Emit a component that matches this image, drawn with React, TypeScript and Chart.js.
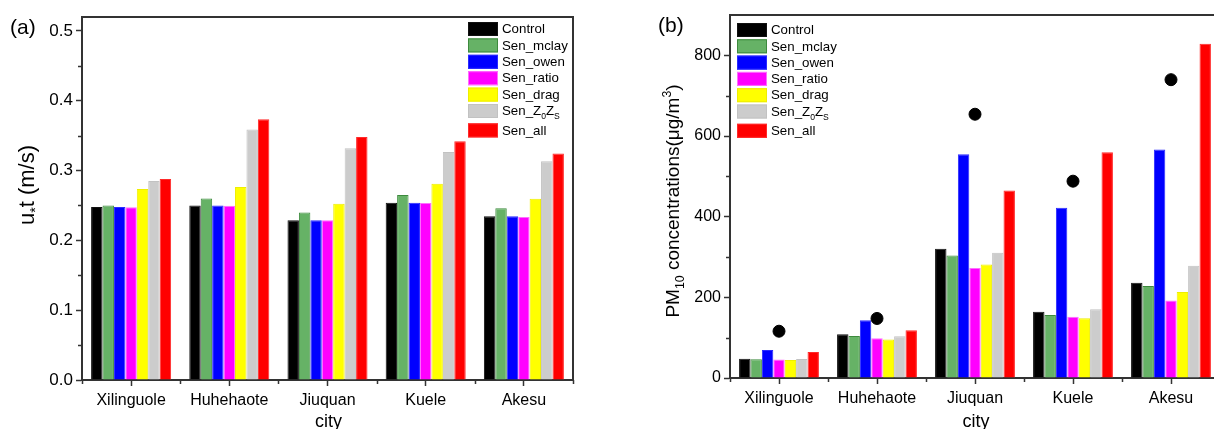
import React, { useEffect, useRef } from 'react';
import { Chart, registerables } from 'chart.js';
Chart.register(...registerables);

const FONT = "'Liberation Sans', Arial, sans-serif";

const cities = ['Xilinguole', 'Huhehaote', 'Jiuquan', 'Kuele', 'Akesu'];
const seriesNames = ['Control', 'Sen_mclay', 'Sen_owen', 'Sen_ratio', 'Sen_drag', 'Sen_Z0ZS', 'Sen_all'];
const fillColors = ['#000000', '#66b266', '#0000ff', '#ff00ff', '#ffff00', '#cccccc', '#ff0000'];
const edgeColors = ['#111111', '#3d8a3d', '#2a2aff', '#ff6cff', '#eeee00', '#c2c2c2', '#ff2a2a'];

// (a) threshold friction velocity u*t (m/s)
const uControl = [0.248, 0.250, 0.229, 0.254, 0.2345];
const uMclay = [0.250, 0.260, 0.240, 0.265, 0.246];
const uOwen = [0.248, 0.250, 0.229, 0.254, 0.2345];
const uRatio = [0.2475, 0.2495, 0.2288, 0.2535, 0.2335];
const uDrag = [0.2735, 0.2765, 0.2525, 0.281, 0.2598];
const uZ0Zs = [0.285, 0.3587, 0.332, 0.3266, 0.3133];
const uAll = [0.288, 0.3735, 0.348, 0.342, 0.3243];

// (b) PM10 concentrations (ug/m3)
const pmControl = [48, 108.6, 320.5, 164, 236];
const pmMclay = [46.5, 104.3, 304, 156.5, 227.8];
const pmOwen = [69.6, 143.4, 555, 422, 566.5];
const pmRatio = [45.6, 98.6, 272.5, 151.6, 192.3];
const pmDrag = [44.7, 95.3, 281.7, 148.3, 213];
const pmZ0Zs = [47.2, 103.6, 310.6, 170.7, 278.3];
const pmAll = [64.6, 118.5, 464.6, 560, 829];
const pmObserved = [116, 147.6, 654, 488, 739.6];

const uTicksMajor = [0, 0.1, 0.2, 0.3, 0.4, 0.5];
const uTicksMinor = [0.05, 0.15, 0.25, 0.35, 0.45];
const pmTicksMajor = [0, 200, 400, 600, 800];
const pmTicksMinor = [100, 300, 500, 700];

type Part = { t: string; k?: 'sub' | 'sup' };

function drawRich(ctx: CanvasRenderingContext2D, parts: Part[], x: number, y: number, size: number, rotate: boolean, align: 'center' | 'left') {
  const small = size * 0.65;
  const widths = parts.map((p) => {
    ctx.font = `${p.k ? small : size}px ${FONT}`;
    return ctx.measureText(p.t).width;
  });
  const total = widths.reduce((a, b) => a + b, 0);
  ctx.save();
  ctx.translate(x, y);
  if (rotate) ctx.rotate(-Math.PI / 2);
  ctx.fillStyle = '#000';
  ctx.textBaseline = 'alphabetic';
  ctx.textAlign = 'left';
  let cx = align === 'center' ? -total / 2 : 0;
  const base = size * 0.36;
  parts.forEach((p, i) => {
    ctx.font = `${p.k ? small : size}px ${FONT}`;
    let dy = 0;
    if (p.k === 'sub') dy = size * 0.28;
    if (p.k === 'sup') dy = -size * 0.4;
    ctx.fillText(p.t, cx, base + dy);
    cx += widths[i];
  });
  ctx.restore();
}

const legendLabels: Part[][] = [
  [{ t: 'Control' }],
  [{ t: 'Sen_mclay' }],
  [{ t: 'Sen_owen' }],
  [{ t: 'Sen_ratio' }],
  [{ t: 'Sen_drag' }],
  [{ t: 'Sen_Z' }, { t: '0', k: 'sub' }, { t: 'Z' }, { t: 'S', k: 'sub' }],
  [{ t: 'Sen_all' }],
];

type Decor = {
  minorY: number[];
  legendX: number;
  legendY0: number;
  legendStep: number;
  yTitle: Part[];
  yTitleX: number;
  yTitleY: number;
  yTitleSize: number;
  panel: string;
  panelX: number;
  panelY: number;
};

function decorPlugin(cfg: Decor) {
  return {
    id: 'decor',
    afterDraw(chart: any) {
      const ctx: CanvasRenderingContext2D = chart.ctx;
      const { left, right, top, bottom } = chart.chartArea;
      const xs = chart.scales.x;
      const ys = chart.scales.y;
      ctx.save();
      ctx.strokeStyle = '#333';
      ctx.lineWidth = 2;
      ctx.beginPath();
      ctx.moveTo(left - 1, top);
      ctx.lineTo(right, top);
      ctx.lineTo(right, bottom + 1);
      ctx.stroke();
      ctx.lineWidth = 1.5;
      ctx.beginPath();
      cfg.minorY.forEach((v) => {
        const py = Math.round(ys.getPixelForValue(v)) + 0.5;
        ctx.moveTo(left - 4, py);
        ctx.lineTo(left, py);
      });
      for (let i = 0; i <= cities.length; i++) {
        const px = Math.round(xs.getPixelForValue(i - 0.5)) + 0.5;
        ctx.moveTo(px, bottom);
        ctx.lineTo(px, bottom + 4);
      }
      ctx.stroke();
      ctx.restore();

      // legend
      ctx.save();
      for (let i = 0; i < seriesNames.length; i++) {
        const cy = cfg.legendY0 + i * cfg.legendStep + (i === seriesNames.length - 1 ? 3 : 0);
        ctx.fillStyle = fillColors[i];
        ctx.fillRect(cfg.legendX, cy - 7, 30, 14);
        ctx.strokeStyle = edgeColors[i];
        ctx.lineWidth = 1;
        ctx.strokeRect(cfg.legendX + 0.5, cy - 6.5, 29, 13);
        drawRich(ctx, legendLabels[i], cfg.legendX + 34, cy - 0.5, 13.3, false, 'left');
      }
      ctx.restore();

      // axis titles
      drawRich(ctx, cfg.yTitle, cfg.yTitleX, cfg.yTitleY, cfg.yTitleSize, true, 'center');
      ctx.save();
      ctx.fillStyle = '#000';
      ctx.font = `18px ${FONT}`;
      ctx.textAlign = 'center';
      ctx.textBaseline = 'alphabetic';
      ctx.fillText('city', (left + right) / 2 + 1, 427);
      ctx.font = `21px ${FONT}`;
      ctx.textAlign = 'left';
      ctx.fillText(cfg.panel, cfg.panelX, cfg.panelY);
      ctx.restore();
    },
  };
}

function barSets(values: number[][]) {
  return values.map((v, i) => ({
    type: 'bar' as const,
    label: seriesNames[i],
    data: v,
    backgroundColor: fillColors[i],
    borderColor: edgeColors[i],
    borderWidth: 1,
    barPercentage: 1,
    categoryPercentage: 0.815,
    order: 2,
  }));
}

function makeOptions(opts: {
  yMax: number;
  major: number[];
  fmt: (v: number) => string;
  yWidth: number;
  xHeight: number;
  yFont: number;
  pad: { left: number; right: number; top: number; bottom: number };
}) {
  return {
    responsive: false,
    maintainAspectRatio: false,
    animation: false as const,
    devicePixelRatio: 1,
    layout: { padding: opts.pad },
    plugins: { legend: { display: false }, tooltip: { enabled: false }, title: { display: false } },
    scales: {
      x: {
        type: 'category' as const,
        offset: true,
        grid: { display: true, drawOnChartArea: false, drawTicks: true, tickLength: 6, offset: false, tickColor: '#333', tickWidth: 1.5 },
        border: { display: true, color: '#333', width: 2 },
        ticks: { color: '#000', font: { family: FONT, size: 16 }, padding: 5, maxRotation: 0, autoSkip: false },
        afterFit: (s: any) => { s.height = opts.xHeight; },
      },
      y: {
        type: 'linear' as const,
        min: 0,
        max: opts.yMax,
        afterBuildTicks: (s: any) => { s.ticks = opts.major.map((v) => ({ value: v })); },
        grid: { display: true, drawOnChartArea: false, drawTicks: true, tickLength: 6, tickColor: '#333', tickWidth: 1.5 },
        border: { display: true, color: '#333', width: 2 },
        ticks: { color: '#000', font: { family: FONT, size: opts.yFont }, padding: 3, callback: (v: any) => opts.fmt(Number(v)) },
        afterFit: (s: any) => { s.width = opts.yWidth; },
      },
    },
  };
}

export default function App() {
  const refA = useRef<HTMLCanvasElement>(null);
  const refB = useRef<HTMLCanvasElement>(null);

  useEffect(() => {
    Chart.defaults.font.family = FONT;
    const chartA = new Chart(refA.current as HTMLCanvasElement, {
      type: 'bar',
      data: {
        labels: cities,
        datasets: barSets([uControl, uMclay, uOwen, uRatio, uDrag, uZ0Zs, uAll]) as any,
      },
      options: makeOptions({
        yMax: 0.52,
        major: uTicksMajor,
        fmt: (v) => v.toFixed(1),
        yWidth: 82,
        xHeight: 49,
        yFont: 17,
        pad: { left: 0, right: 27, top: 17, bottom: 0 },
      }) as any,
      plugins: [
        decorPlugin({
          minorY: uTicksMinor,
          legendX: 468,
          legendY0: 29,
          legendStep: 16.4,
          yTitle: [{ t: 'u' }, { t: '*', k: 'sub' }, { t: 't (m/s)' }],
          yTitleX: 26,
          yTitleY: 185,
          yTitleSize: 22,
          panel: '(a)',
          panelX: 10,
          panelY: 34,
        }),
      ],
    });
    const chartB = new Chart(refB.current as HTMLCanvasElement, {
      type: 'bar',
      data: {
        labels: cities,
        datasets: [
          {
            type: 'line' as const,
            label: 'Observed',
            data: pmObserved,
            showLine: false,
            pointRadius: 6,
            pointHoverRadius: 6,
            pointBackgroundColor: '#000',
            pointBorderColor: '#000',
            borderColor: '#000',
            backgroundColor: '#000',
            order: 1,
          },
          ...barSets([pmControl, pmMclay, pmOwen, pmRatio, pmDrag, pmZ0Zs, pmAll]),
        ] as any,
      },
      options: makeOptions({
        yMax: 900,
        major: pmTicksMajor,
        fmt: (v) => String(Math.round(v)),
        yWidth: 130,
        xHeight: 51,
        yFont: 16,
        pad: { left: 0, right: 20, top: 15, bottom: 0 },
      }) as any,
      plugins: [
        decorPlugin({
          minorY: pmTicksMinor,
          legendX: 137,
          legendY0: 30,
          legendStep: 16.3,
          yTitle: [{ t: 'PM' }, { t: '10', k: 'sub' }, { t: ' concentrations(\u03bcg/m' }, { t: '3', k: 'sup' }, { t: ')' }],
          yTitleX: 72,
          yTitleY: 201,
          yTitleSize: 19,
          panel: '(b)',
          panelX: 58,
          panelY: 32,
        }),
      ],
    });
    return () => {
      chartA.destroy();
      chartB.destroy();
    };
  }, []);

  return (
    <div style={{ position: 'fixed', left: 0, top: 0, width: 1214, height: 429, overflow: 'hidden', background: '#ffffff' }}>
      <canvas ref={refA} width={600} height={429} style={{ position: 'absolute', left: 0, top: 0, width: 600, height: 429 }} />
      <canvas ref={refB} width={640} height={429} style={{ position: 'absolute', left: 600, top: 0, width: 640, height: 429 }} />
    </div>
  );
}
